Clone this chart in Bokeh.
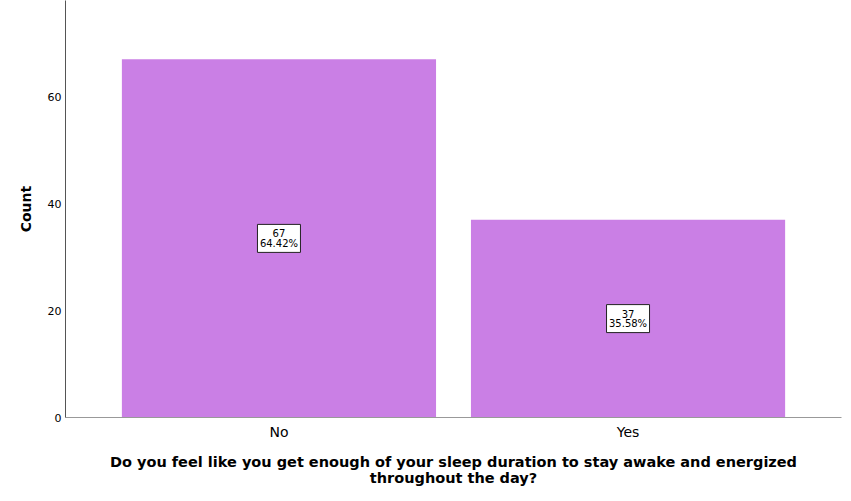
from bokeh.plotting import figure
from bokeh.models import ColumnDataSource, FactorRange, Range1d
from bokeh.core.properties import value
from bokeh.embed import file_html
from bokeh.resources import INLINE

categories = ["No", "Yes"]
counts = [67, 37]
total = sum(counts)
percents = ["%.2f%%" % (100.0 * c / total) for c in counts]
count_text = [str(c) for c in counts]
y_ticks = [0, 20, 40, 60]
x_title = "Do you feel like you get enough of your sleep duration to stay awake and energized\nthroughout the day?"
y_title = "Count"

src = ColumnDataSource(dict(cat=categories, count=counts,
                            mid=[c / 2 for c in counts],
                            ctext=count_text, ptext=percents))

FONT = "DejaVu Sans"

p = figure(width=851, height=501, output_backend="svg", toolbar_location=None,
           x_range=FactorRange(*categories, range_padding=0.1115),
           y_range=Range1d(0, 78),
           min_border_left=65, min_border_right=10, min_border_top=0, min_border_bottom=84)
p.outline_line_color = None
p.xgrid.visible = False
p.ygrid.visible = False

p.vbar(x="cat", top="count", width=0.9, source=src, fill_color="#CA7FE5", line_color=None)

# value boxes
p.rect(x="cat", y="mid", width=43, height=28, width_units="screen", height_units="screen",
       source=src, fill_color="white", line_color="#222222", line_width=1)
p.text(x="cat", y="mid", text="ctext", source=src, y_offset=-5,
       text_align="center", text_baseline="middle", text_font=value(FONT),
       text_font_size="10px", text_color="black")
p.text(x="cat", y="mid", text="ptext", source=src, y_offset=5,
       text_align="center", text_baseline="middle", text_font=value(FONT),
       text_font_size="10px", text_color="black")

p.yaxis.ticker = y_ticks
p.yaxis.axis_line_color = "#555555"
p.yaxis.major_tick_line_color = None
p.yaxis.minor_tick_line_color = None
p.yaxis.major_tick_out = 0
p.yaxis.major_tick_in = 0
p.yaxis.major_label_text_font = FONT
p.yaxis.major_label_text_font_size = "11px"
p.yaxis.major_label_text_color = "black"
p.yaxis.major_label_standoff = 4
p.yaxis.axis_label = y_title
p.yaxis.axis_label_text_font = FONT
p.yaxis.axis_label_text_font_style = "bold"
p.yaxis.axis_label_text_font_size = "14px"
p.yaxis.axis_label_text_color = "black"
p.yaxis.axis_label_standoff = 11

p.xaxis.axis_line_color = "#999999"
p.xaxis.major_tick_line_color = None
p.xaxis.minor_tick_line_color = None
p.xaxis.major_tick_out = 0
p.xaxis.major_tick_in = 0
p.xaxis.major_label_text_font = FONT
p.xaxis.major_label_text_font_size = "14px"
p.xaxis.major_label_text_color = "black"
p.xaxis.major_label_standoff = 6
p.xaxis.axis_label = x_title
p.xaxis.axis_label_text_font = FONT
p.xaxis.axis_label_text_font_style = "bold"
p.xaxis.axis_label_text_font_size = "14.5px"
p.xaxis.axis_label_text_color = "black"
p.xaxis.axis_label_standoff = 11
p.xaxis.axis_label_text_line_height = 1.05

open("out.html", "w").write(file_html(p, INLINE))
